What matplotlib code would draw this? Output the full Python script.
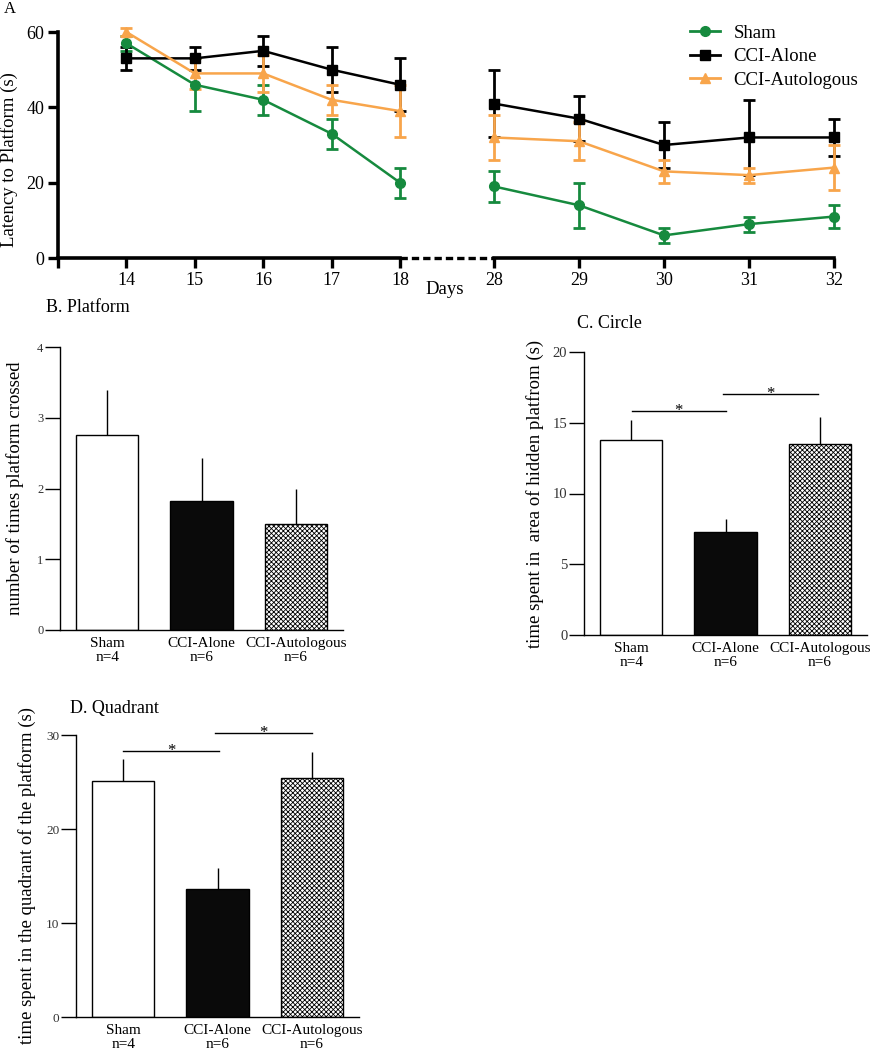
import matplotlib
matplotlib.use("Agg")
import matplotlib.pyplot as plt
from matplotlib.lines import Line2D
import numpy as np

plt.rcParams['font.family'] = ['Liberation Serif', 'DejaVu Serif']
plt.rcParams['hatch.linewidth'] = 0.6

# Panel A: latency to platform
days_early = [14, 15, 16, 17, 18]
days_late = [28, 29, 30, 31, 32]
sham_early = [57, 46, 42, 33, 20]
sham_early_err = [2, 7, 4, 4, 4]
sham_late = [19, 14, 6, 9, 11]
sham_late_err = [4, 6, 2, 2, 3]
alone_early = [53, 53, 55, 50, 46]
alone_early_err = [3, 3, 4, 6, 7]
alone_late = [41, 37, 30, 32, 32]
alone_late_err = [9, 6, 6, 10, 5]
auto_early = [60, 49, 49, 42, 39]
auto_early_err = [1, 4, 5, 4, 7]
auto_late = [32, 31, 23, 22, 24]
auto_late_err = [6, 5, 3, 2, 6]

# Panels B-D: probe trial bars
groups = ['Sham\nn=4', 'CCI-Alone\nn=6', 'CCI-Autologous\nn=6']
platform = [2.75, 1.83, 1.5]
platform_err = [0.64, 0.60, 0.50]
circle = [13.8, 7.3, 13.5]
circle_err = [1.4, 0.9, 1.9]
quadrant = [25.1, 13.6, 25.4]
quadrant_err = [2.3, 2.3, 2.8]

green = '#168a3e'
orange = '#f8a54b'
W, H = 871, 1050

fig = plt.figure(figsize=(8.71, 10.5), dpi=100)


def fbox(x0, y0, x1, y1):
    # pixel box (top-left origin) -> figure fraction rect
    return [x0 / W, 1 - y1 / H, (x1 - x0) / W, (y1 - y0) / H]


axL = fig.add_axes(fbox(58, 32, 400, 258))
axR = fig.add_axes(fbox(494, 32, 834, 258))

series = [
    ('Sham', green, 'o', 7, sham_early, sham_early_err, sham_late, sham_late_err),
    ('CCI-Alone', 'black', 's', 7, alone_early, alone_early_err, alone_late, alone_late_err),
    ('CCI-Autologous', orange, '^', 7, auto_early, auto_early_err, auto_late, auto_late_err),
]
handles = []
for name, c, m, ms, ye, ee, yl, el in series:
    axL.errorbar(days_early, ye, yerr=ee, color=c, marker=m, ms=ms, lw=1.8,
                 elinewidth=2, capsize=4, capthick=2, clip_on=False)
    axR.errorbar(days_late, yl, yerr=el, color=c, marker=m, ms=ms, lw=1.8,
                 elinewidth=2, capsize=4, capthick=2, clip_on=False)
    handles.append(Line2D([], [], color=c, marker=m, ms=ms, lw=2, label=name))

for ax in (axL, axR):
    ax.set_ylim(0, 60)
    ax.spines['top'].set_visible(False)
    ax.spines['right'].set_visible(False)
    ax.spines['bottom'].set_linewidth(2.6)
    ax.spines['left'].set_linewidth(2.6)
    ax.tick_params(axis='both', width=2.4, length=7, labelsize=13, pad=3)
    ax.set_facecolor('none')

axL.set_xlim(13, 18)
axL.set_xticks([13] + days_early)
axL.set_xticklabels([''] + [str(d) for d in days_early])
axL.set_yticks([0, 20, 40, 60])
axL.set_ylabel('Latency to Platform (s)', fontsize=13.5, va='center')
axL.yaxis.set_label_coords(-0.143, 0.436)

axR.set_xlim(28, 32)
axR.set_xticks(days_late)
axR.spines['left'].set_visible(False)
axR.tick_params(axis='y', left=False, labelleft=False)

fig.add_artist(Line2D([400 / W, 494 / W], [1 - 258 / H, 1 - 258 / H],
                      transform=fig.transFigure, color='black', lw=2.4, ls=(0, (2.2, 1.2))))
fig.text(445 / W, 1 - 290 / H, 'Days', ha='center', va='center', fontsize=13.5)
fig.text(4 / W, 1 - 9 / H, 'A', ha='left', va='center', fontsize=12)

axR.legend(handles=handles, loc='upper left', bbox_to_anchor=(681 / W, 1 - 15 / H),
           bbox_transform=fig.transFigure, frameon=False, fontsize=13.5,
           handlelength=1.6, handletextpad=0.7, labelspacing=0.35, borderpad=0)


def bar_panel(rect, vals, errs, ymax, yticks, ylabel, ylabel_x, tick_fs):
    ax = fig.add_axes(rect)
    x = np.arange(len(vals))
    colors = ['white', '#0a0a0a', 'white']
    hatches = ['', '', 'xxxxxxx']
    bars = ax.bar(x, vals, width=0.66, color=colors, edgecolor='black', lw=1, zorder=2)
    for b, hh in zip(bars, hatches):
        b.set_hatch(hh)
    ax.vlines(x, vals, np.array(vals) + np.array(errs), color='black', lw=1, zorder=1)
    ax.set_xlim(-0.5, 2.5)
    ax.set_ylim(0, ymax)
    ax.set_yticks(yticks)
    ax.set_xticks(x)
    ax.set_xticklabels(groups, fontsize=11, linespacing=1.15)
    ax.tick_params(axis='x', length=0, pad=5)
    ax.tick_params(axis='y', length=11, width=1, labelsize=tick_fs, pad=1, labelcolor='#333333')
    for s in ('top', 'right'):
        ax.spines[s].set_visible(False)
    ax.spines['left'].set_linewidth(1)
    ax.spines['bottom'].set_linewidth(1)
    ax.set_ylabel(ylabel, fontsize=13.5, va='center')
    ax.yaxis.set_label_coords(ylabel_x, 0.5)
    return ax


axB = bar_panel(fbox(60, 347, 343, 630), platform, platform_err, 4, [0, 1, 2, 3, 4],
                'number of times platform crossed', -0.159, 9)
fig.text(46 / W, 1 - 307 / H, 'B. Platform', ha='left', va='center', fontsize=13)

axC = bar_panel(fbox(584, 352, 867, 635), circle, circle_err, 20, [0, 5, 10, 15, 20],
                'time spent in  area of hidden platfrom (s)', -0.172, 10.5)
fig.text(577 / W, 1 - 323 / H, 'C. Circle', ha='left', va='center', fontsize=13)

axD = bar_panel(fbox(76, 735, 359, 1017), quadrant, quadrant_err, 30, [0, 10, 20, 30],
                'time spent in the quadrant of the platform (s)', -0.174, 9.5)
fig.text(70 / W, 1 - 708 / H, 'D. Quadrant', ha='left', va='center', fontsize=13)


def sig(ax, x0, x1, y):
    ax.plot([x0, x1], [y, y], color='black', lw=1, clip_on=False)
    ax.text((x0 + x1) / 2, y, '*', ha='center', va='center', fontsize=12, clip_on=False)


sig(axC, 0.01, 1.0, 15.85)
sig(axC, 0.97, 1.98, 17.0)
sig(axD, 0.0, 1.02, 28.3)
sig(axD, 0.97, 2.0, 30.2)

fig.savefig('out.png', dpi=100)
